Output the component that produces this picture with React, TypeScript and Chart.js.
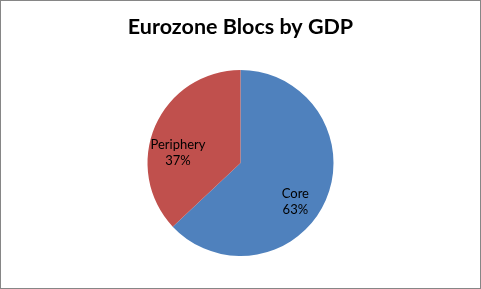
import React, { useEffect, useRef } from "react";
import { Chart, registerables } from "chart.js";

Chart.register(...registerables);

const categories = ["Core", "Periphery"];
const values = [63, 37];
const colors = ["#4F81BD", "#C0504D"];
const titleText = "Eurozone Blocs by GDP";
// label placement (fraction of radius, angle offset in degrees from slice middle)
const labelRadius = [0.72, 0.68];
const labelAngleOffset = [11.6, -14.4];

const labelPlugin = {
  id: "sliceLabels",
  afterDatasetsDraw(chart: any) {
    const ctx = chart.ctx;
    const meta = chart.getDatasetMeta(0);
    const total = values.reduce((a, b) => a + b, 0);
    ctx.save();
    ctx.font = "13px Lato, 'Open Sans', sans-serif";
    ctx.fillStyle = "#000";
    ctx.textAlign = "center";
    ctx.textBaseline = "middle";
    meta.data.forEach((arc: any, i: number) => {
      const p = arc.getProps(["x", "y", "startAngle", "endAngle", "outerRadius"], true);
      const mid = (p.startAngle + p.endAngle) / 2 + (labelAngleOffset[i] * Math.PI) / 180;
      const r = p.outerRadius * labelRadius[i];
      const x = p.x + Math.cos(mid) * r;
      const y = p.y + Math.sin(mid) * r;
      const pct = Math.round((values[i] / total) * 100) + "%";
      ctx.fillText(categories[i], x, y - 8);
      ctx.fillText(pct, x, y + 8);
    });
    ctx.restore();
  },
};

export default function App() {
  const ref = useRef<HTMLCanvasElement>(null);
  useEffect(() => {
    if (!ref.current) return;
    const chart = new Chart(ref.current, {
      type: "pie",
      data: {
        labels: categories,
        datasets: [
          {
            data: values,
            backgroundColor: colors,
            borderWidth: 0,
          },
        ],
      },
      options: {
        animation: false,
        responsive: false,
        maintainAspectRatio: false,
        layout: { padding: { top: 8, bottom: 32, left: 0, right: 0 } },
        plugins: {
          legend: { display: false },
          tooltip: { enabled: false },
          title: {
            display: true,
            text: titleText,
            color: "#000",
            font: { family: "Lato, 'Open Sans', sans-serif", size: 21.5, weight: "bold", lineHeight: 1.2 },
            padding: { top: 5, bottom: 30.2 },
          },
        },
      },
      plugins: [labelPlugin],
    });
    return () => chart.destroy();
  }, []);
  return (
    <div
      style={{
        position: "absolute",
        left: 0,
        top: 0,
        width: 479,
        height: 287,
        border: "1px solid #868686",
        background: "#fff",
      }}
    >
      <canvas ref={ref} width={479} height={287} style={{ display: "block" }} />
    </div>
  );
}
